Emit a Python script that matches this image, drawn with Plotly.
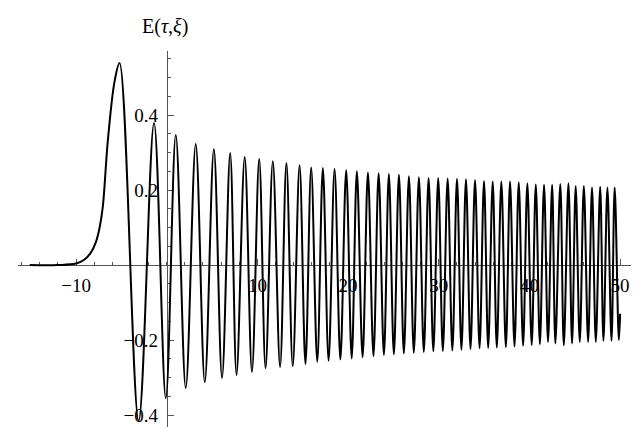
import plotly.graph_objects as go

# ---- data (extrema and points on the leading edge) ----
front_x = [-15.1, -12.0, -10.0, -9.1, -8.4, -7.8, -7.4, -7.05, -6.5, -5.75]
front_y = [0.0, 0.0, 0.004, 0.014, 0.032, 0.062, 0.100, 0.155, 0.330, 0.490]

peak_x = [-5.2, -1.4, 1.0, 3.2, 5.2, 7.0, 8.6, 10.2, 11.7, 13.2, 14.65,
          15.93, 17.22, 18.51, 19.79, 20.97, 22.19, 23.37, 24.50, 25.61, 26.71,
          27.81, 28.88, 29.94, 30.98, 32.01, 33.00, 34.00, 34.99, 35.95, 36.90,
          37.86, 38.82, 39.77, 40.70, 41.61, 42.5, 43.4, 44.3, 45.1, 46.0,
          46.9, 47.8, 48.6, 49.4]
peak_y = [0.539, 0.379, 0.347, 0.323, 0.309, 0.299, 0.288, 0.283, 0.277, 0.272, 0.266,
          0.260, 0.259, 0.256, 0.253, 0.250, 0.247, 0.245, 0.243, 0.241, 0.237,
          0.234, 0.232, 0.232, 0.231, 0.230, 0.229, 0.227, 0.224, 0.223, 0.223,
          0.223, 0.221, 0.218, 0.215, 0.214, 0.214, 0.216, 0.218, 0.211, 0.211,
          0.207, 0.209, 0.207, 0.207]

trough_x = [-3.1, -0.1, 2.1, 4.2, 6.1, 7.7, 9.4, 10.9, 12.5, 13.9, 15.3,
            16.6, 17.85, 19.15, 20.4, 21.6, 22.8, 23.95, 25.05, 26.15, 27.25,
            28.35, 29.4, 30.45, 31.5, 32.5, 33.5, 34.5, 35.45, 36.4, 37.4,
            38.35, 39.3, 40.25, 41.15, 42.05, 42.86, 43.79, 44.70, 45.55, 46.47,
            47.32, 48.16, 49.05, 49.86]
trough_y = [-0.416, -0.355, -0.328, -0.312, -0.301, -0.293, -0.285, -0.275, -0.272, -0.269, -0.264,
            -0.258, -0.255, -0.252, -0.249, -0.246, -0.243, -0.240, -0.238, -0.236, -0.234,
            -0.232, -0.230, -0.229, -0.228, -0.226, -0.224, -0.222, -0.221, -0.220, -0.219,
            -0.217, -0.215, -0.213, -0.211, -0.205, -0.209, -0.214, -0.209, -0.205, -0.205,
            -0.205, -0.202, -0.202, -0.200]

end_x = [50.0]
end_y = [-0.13]

x_ticks = [-10, 10, 20, 30, 40, 50]
x_ticktext = ["\u221210", "10", "20", "30", "40", "50"]
y_ticks = [-0.4, -0.2, 0.2, 0.4]
y_ticktext = ["\u22120.4", "\u22120.2", "0.2", "0.4"]

# ---- assemble the curve: leading edge, then alternating extrema ----
pts = list(zip(front_x, front_y)) + list(zip(peak_x, peak_y)) + \
      list(zip(trough_x, trough_y)) + list(zip(end_x, end_y))
pts.sort(key=lambda p: p[0])
cx = [p[0] for p in pts]
cy = [p[1] for p in pts]

W, H = 644, 427
x_range = [-16.4, 51.2]
y_range = [-0.448, 0.571]
x_dom = [10 / W, 623 / W]
y_dom = [2 / H, 384 / H]

def frac(v, r, d):
    return d[0] + (v - r[0]) / (r[1] - r[0]) * (d[1] - d[0])

fig = go.Figure()
fig.add_trace(go.Scatter(x=cx, y=cy, mode="lines",
                         line=dict(color="black", width=2, shape="spline", smoothing=1.0),
                         hoverinfo="skip", showlegend=False))

font = dict(family="Liberation Serif, Times New Roman, serif", size=19, color="black")
title_font = dict(family="Liberation Serif, Times New Roman, serif", size=20, color="black")
axis_col = "#555555"

fig.update_layout(
    width=W, height=H,
    margin=dict(l=0, r=0, t=0, b=0),
    paper_bgcolor="white", plot_bgcolor="white",
    showlegend=False,
    xaxis=dict(range=x_range, domain=x_dom, anchor="free",
               position=frac(0, y_range, y_dom),
               showgrid=False, zeroline=False, showline=True, linecolor=axis_col, linewidth=1,
               tickvals=x_ticks, ticktext=x_ticktext, ticks="inside", ticklen=6,
               tickcolor=axis_col, tickfont=font, ticklabelstandoff=3,
               minor=dict(dtick=2, tick0=0, ticks="inside", ticklen=3.5, tickcolor=axis_col),
               layer="below traces"),
    yaxis=dict(range=y_range, domain=y_dom, anchor="free",
               position=frac(0, x_range, x_dom),
               showgrid=False, zeroline=False, showline=True, linecolor=axis_col, linewidth=1,
               tickvals=y_ticks, ticktext=y_ticktext, ticks="inside", ticklen=6,
               tickcolor=axis_col, tickfont=font, ticklabelstandoff=5,
               minor=dict(dtick=0.05, tick0=0, ticks="inside", ticklen=3.5, tickcolor=axis_col),
               layer="below traces"),
    annotations=[dict(text="E(<i>\u03c4</i>,<i>\u03be</i>)", xref="paper", yref="paper",
                      x=157 / W, y=1 - 18 / H, xanchor="center", yanchor="middle",
                      showarrow=False, font=title_font)],
)

fig.write_html("out.html")
